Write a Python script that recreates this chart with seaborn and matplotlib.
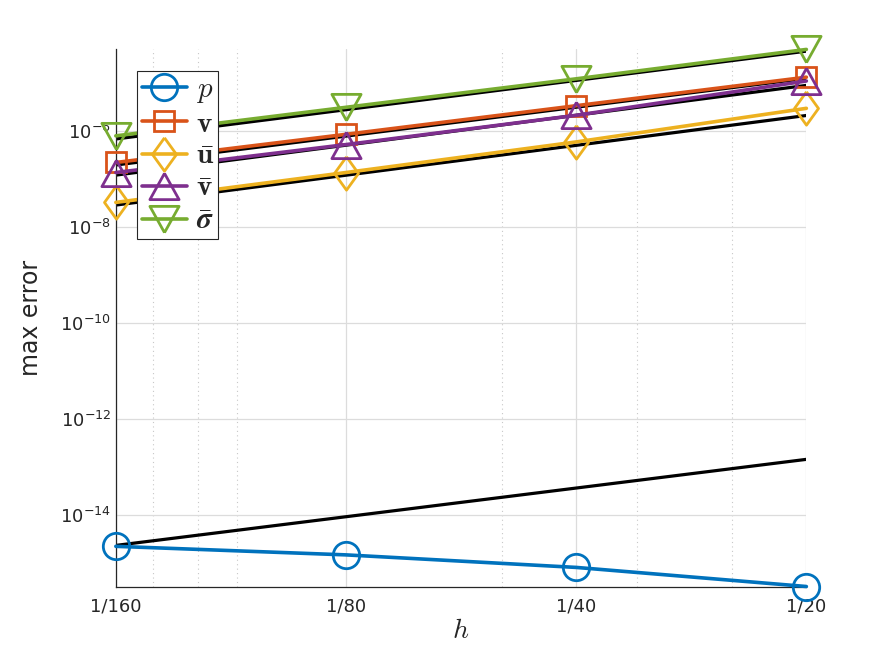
import numpy as np
import pandas as pd
import matplotlib
matplotlib.use("Agg")
import matplotlib.pyplot as plt
from matplotlib.ticker import FixedLocator, LogFormatterSciNotation, NullFormatter
import seaborn as sns

# ---- data ----
h = [1/160, 1/80, 1/40, 1/20]
h_labels = ["1/160", "1/80", "1/40", "1/20"]

p_err = [2.2e-15, 1.46e-15, 8.0e-16, 3.2e-16]
v_err = [2.2e-7, 8.5e-7, 3.36e-6, 1.32e-5]
ubar_err = [3.24e-8, 1.36e-7, 5.9e-7, 2.96e-6]
vbar_err = [1.36e-7, 5.2e-7, 2.12e-6, 1.1e-5]
sigma_err = [7.9e-7, 3.11e-6, 1.22e-5, 5.0e-5]

# black reference lines (endpoints at h = 1/160 and 1/20)
ref_h = [1/160, 1/20]
ref_p = [2.3e-15, 1.43e-13]
ref_v = [1.95e-7, 1.25e-5]
ref_ubar = [2.85e-8, 2.1e-6]
ref_vbar = [1.2e-7, 8.9e-6]
ref_sigma = [6.8e-7, 4.6e-5]

labels = [r"$p$", r"$\mathbf{v}$", r"$\bar{\mathbf{u}}$", r"$\bar{\mathbf{v}}$",
          r"$\bar{\boldsymbol{\sigma}}$"]
colors = ["#0072BD", "#D95319", "#EDB120", "#7E2F8E", "#77AC30"]

sns.set_style("white")
plt.rcParams["font.family"] = ["DejaVu Sans"]
plt.rcParams["mathtext.fontset"] = "cm"

fig = plt.figure(figsize=(8.91, 6.59), dpi=100)
ax = fig.add_axes([0.13, 0.11, 0.775, 0.815])

# reference lines
for r in [ref_p, ref_v, ref_ubar, ref_vbar, ref_sigma]:
    df = pd.DataFrame({"h": ref_h, "err": r})
    sns.lineplot(data=df, x="h", y="err", ax=ax, color="black", linewidth=2.3,
                 zorder=2, legend=False)

diamond = [(0, 1), (0.72, 0), (0, -1), (-0.72, 0), (0, 1)]
tri_up = [(0, 0.9), (1, -0.9), (-1, -0.9), (0, 0.9)]
tri_dn = [(0, -0.9), (1, 0.9), (-1, 0.9), (0, -0.9)]
markers = ["o", "s", diamond, tri_up, tri_dn]
msizes = [19, 15, 24, 21, 21]
series = [p_err, v_err, ubar_err, vbar_err, sigma_err]

handles = []
for vals, lab, col, mk, ms in zip(series, labels, colors, markers, msizes):
    df = pd.DataFrame({"h": h, "err": vals})
    sns.lineplot(data=df, x="h", y="err", ax=ax, color=col, linewidth=2.6,
                 marker=mk, markersize=ms, markerfacecolor="none",
                 markeredgecolor=col, markeredgewidth=2.0, zorder=3,
                 legend=False, clip_on=False)
    handles.append(ax.lines[-1])

ax.set_xscale("log")
ax.set_yscale("log")
ax.set_xlim(h[0], h[-1])
ax.set_ylim(min(p_err), max(sigma_err))

ax.xaxis.set_major_locator(FixedLocator(h))
ax.set_xticklabels(h_labels)
ax.xaxis.set_minor_locator(FixedLocator([0.007, 0.008, 0.009, 0.02, 0.03, 0.04]))
ax.xaxis.set_minor_formatter(NullFormatter())
ax.yaxis.set_major_locator(FixedLocator([1e-14, 1e-12, 1e-10, 1e-8, 1e-6]))
ax.yaxis.set_major_formatter(LogFormatterSciNotation())
ax.yaxis.set_minor_locator(FixedLocator([]))

ax.grid(True, which="major", color="#dcdcdc", linewidth=0.9, linestyle="-")
ax.grid(True, which="minor", axis="x", color="#c8c8c8", linewidth=0.8, linestyle=(0, (1, 3)))
ax.set_axisbelow(True)

for s in ["top", "right"]:
    ax.spines[s].set_visible(False)
for s in ["left", "bottom"]:
    ax.spines[s].set_color("#262626")
    ax.spines[s].set_linewidth(0.9)

ax.tick_params(axis="both", which="major", direction="in", length=5, width=0.8,
               colors="#262626", labelsize=13, labelcolor="#262626")
ax.tick_params(axis="x", which="minor", direction="in", length=3, width=0.6,
               colors="#262626")
ax.tick_params(axis="x", which="major", pad=8)

ax.set_xlabel(r"$h$", fontsize=20, labelpad=0)
ax.set_ylabel("max error", fontsize=17, color="#262626", labelpad=12)

leg = ax.legend(handles, labels, loc="upper left", bbox_to_anchor=(0.031, 0.96),
                borderaxespad=0, fontsize=21, handlelength=1.55, handletextpad=0.3,
                borderpad=0.15, labelspacing=0.15, fancybox=False, framealpha=1,
                edgecolor="#262626")
leg.get_frame().set_linewidth(0.8)

fig.savefig("out.png", dpi=100)
